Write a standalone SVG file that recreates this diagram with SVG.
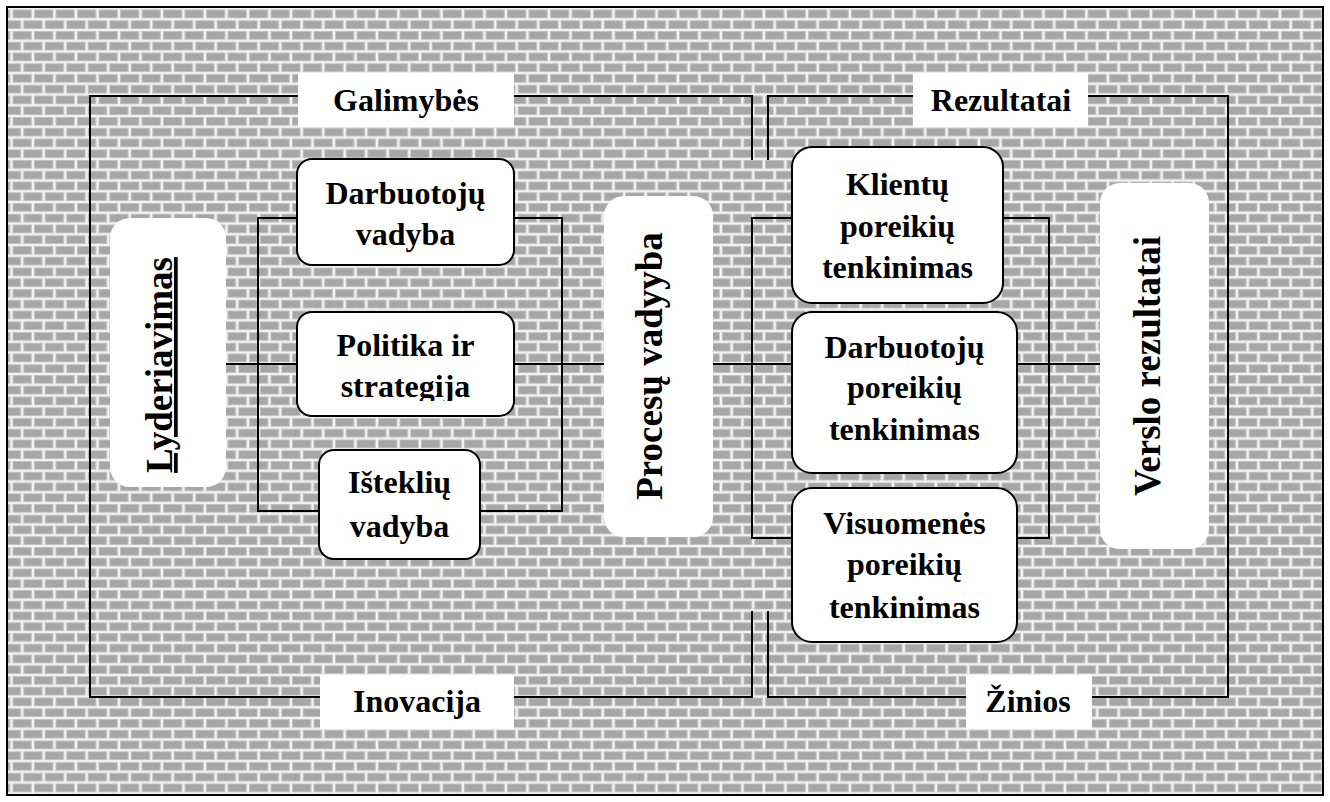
<svg xmlns="http://www.w3.org/2000/svg" width="1330" height="802" viewBox="0 0 1330 802">
  <defs>
    <pattern id="bricks" patternUnits="userSpaceOnUse" x="11.5" y="8.5" width="21.5" height="21.5">
      <rect x="0" y="0" width="21.5" height="21.5" fill="#f2f2f2"/>
      <g fill="#a6a6a6" stroke="#c4c4c4" stroke-width="1">
        <rect x="1.5" y="1.5" width="18.3" height="7.8"/>
        <rect x="12.25" y="12.25" width="18.3" height="7.8"/>
        <rect x="-9.25" y="12.25" width="18.3" height="7.8"/>
      </g>
    </pattern>
    <clipPath id="clipPolitika">
      <rect x="297" y="312" width="217" height="89"/>
    </clipPath>
  </defs>
  <style>
    text { font-family: "Liberation Serif", "Times New Roman", serif; font-weight: bold; fill: #000; text-anchor: middle; }
    .lbl { font-size: 32px; }
    .big { font-size: 37px; }
    .box { fill: #fff; stroke: #000; stroke-width: 2; }
    .pill { fill: #fff; }
    .tag { fill: #fff; }
    .line { fill: none; stroke: #000; stroke-width: 2; }
  </style>

  <!-- background -->
  <rect x="0" y="0" width="1330" height="802" fill="#fff"/>
  <rect x="7" y="7" width="1316" height="788" fill="url(#bricks)" stroke="#000" stroke-width="2"/>

  <!-- connectors -->
  <g id="connectors">
    <path class="line" d="M752,160 V96 H90 V697 H752 V611"/>
    <path class="line" d="M768,160 V96 H1228 V697 H768 V611"/>
    <rect class="line" x="258" y="218" width="304" height="293"/>
    <rect class="line" x="752" y="218" width="297" height="320"/>
    <path class="line" d="M226,364 H1100"/>
  </g>

  <!-- frame labels -->
  <g id="galimybes">
    <rect class="tag" x="298" y="73" width="216" height="54"/>
    <text class="lbl" x="406" y="111">Galimybės</text>
  </g>
  <g id="inovacija">
    <rect class="tag" x="320" y="675" width="194" height="54"/>
    <text class="lbl" x="417" y="712">Inovacija</text>
  </g>
  <g id="rezultatai">
    <rect class="tag" x="913" y="73" width="175" height="54"/>
    <text class="lbl" x="1001" y="111">Rezultatai</text>
  </g>
  <g id="zinios">
    <rect class="tag" x="966" y="675" width="126" height="54"/>
    <text class="lbl" x="1028" y="712">Žinios</text>
  </g>

  <!-- vertical pillars -->
  <g id="lyderiavimas">
    <rect class="pill" x="110" y="218" width="116" height="269" rx="20" ry="20"/>
    <text class="big" transform="translate(172,365) rotate(-90)" x="0" y="0" text-decoration="underline">Lyderiavimas</text>
  </g>
  <g id="procesu-vadyba">
    <rect class="pill" x="604" y="196" width="109" height="341" rx="20" ry="20"/>
    <text class="big" transform="translate(662,366) rotate(-90)" x="0" y="0">Procesų vadyyba</text>
  </g>
  <g id="verslo-rezultatai">
    <rect class="pill" x="1100" y="183" width="109" height="366" rx="20" ry="20"/>
    <text class="big" transform="translate(1160,366) rotate(-90)" x="0" y="0">Verslo rezultatai</text>
  </g>

  <!-- enablers -->
  <g id="darbuotoju-vadyba">
    <rect class="box" x="297" y="159" width="217" height="106" rx="15" ry="15"/>
    <text class="lbl" x="405.5" y="204">Darbuotojų</text>
    <text class="lbl" x="405.5" y="245">vadyba</text>
  </g>
  <g id="politika">
    <rect class="box" x="297" y="312" width="217" height="104" rx="15" ry="15"/>
    <g clip-path="url(#clipPolitika)">
      <text class="lbl" x="405.5" y="356">Politika ir</text>
      <text class="lbl" x="405.5" y="397">strategija</text>
    </g>
  </g>
  <g id="istekliu-vadyba">
    <rect class="box" x="319" y="450" width="161" height="109" rx="15" ry="15"/>
    <text class="lbl" x="399.5" y="493">Išteklių</text>
    <text class="lbl" x="399.5" y="537">vadyba</text>
  </g>

  <!-- results -->
  <g id="klientu">
    <rect class="box" x="792" y="147" width="211" height="156" rx="20" ry="20"/>
    <text class="lbl" x="897.5" y="195">Klientų</text>
    <text class="lbl" x="897.5" y="237">poreikių</text>
    <text class="lbl" x="897.5" y="278">tenkinimas</text>
  </g>
  <g id="darbuotoju-poreikiu">
    <rect class="box" x="792" y="312" width="225" height="161" rx="20" ry="20"/>
    <text class="lbl" x="904.5" y="358">Darbuotojų</text>
    <text class="lbl" x="904.5" y="398">poreikių</text>
    <text class="lbl" x="904.5" y="440">tenkinimas</text>
  </g>
  <g id="visuomenes">
    <rect class="box" x="792" y="488" width="225" height="154" rx="20" ry="20"/>
    <text class="lbl" x="904.5" y="534">Visuomenės</text>
    <text class="lbl" x="904.5" y="575">poreikių</text>
    <text class="lbl" x="904.5" y="618">tenkinimas</text>
  </g>
</svg>
